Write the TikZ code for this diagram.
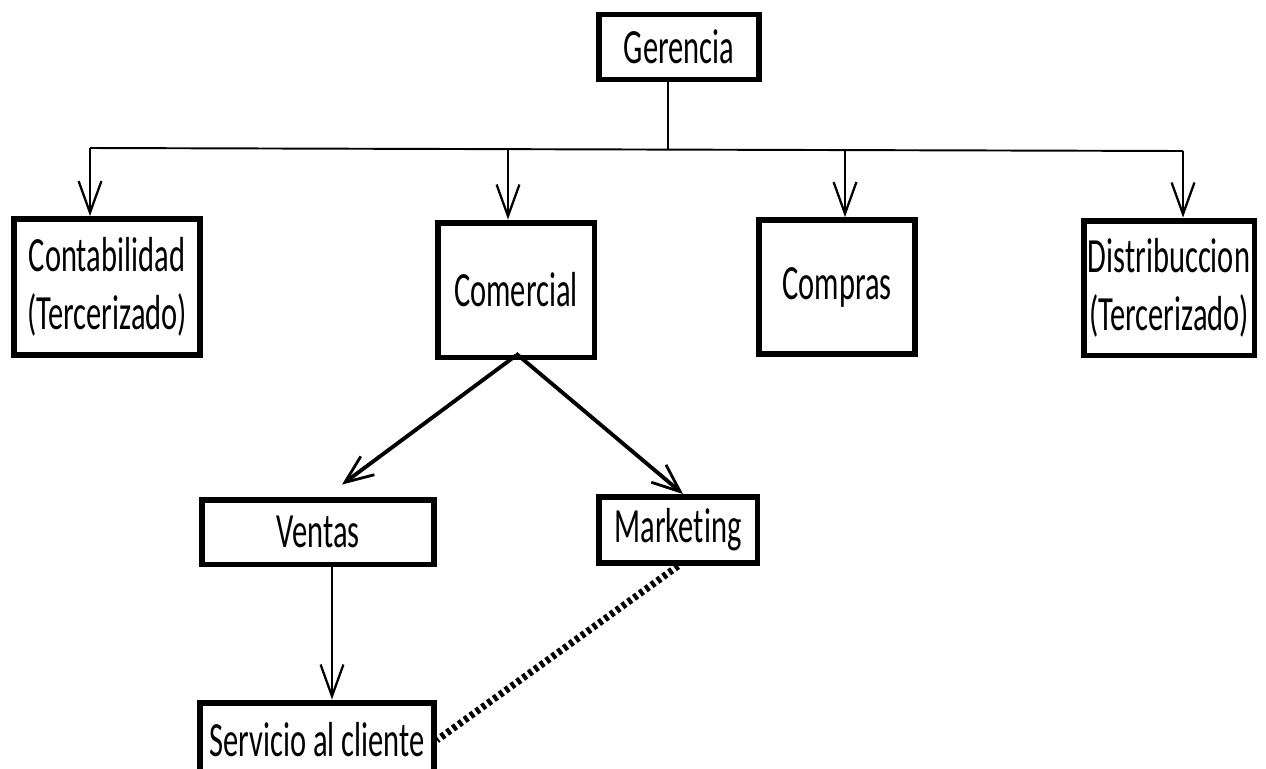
\documentclass[tikz,border=0pt]{standalone}
\usepackage{fontspec}
\setmainfont{Carlito}[FakeStretch=0.62,Ligatures=NoCommon]
\usetikzlibrary{arrows.meta}
\tikzset{
  unit/.style={draw,line width=3.4pt,inner sep=0pt,align=center,font=\fontsize{28}{33}\selectfont},
  link/.style={line width=1.1pt},
  down/.style={link,-{Straight Barb[length=18pt,width=13pt,line width=1.3pt]}},
  branch/.style={line width=2.2pt,-{Straight Barb[length=16pt,width=13pt,line width=1.6pt]}},
  dotlink/.style={line width=4pt,dash pattern=on 2.2pt off 1.9pt}
}
\begin{document}
\begin{tikzpicture}[x=0.02cm,y=-0.02cm]
   \useasboundingbox (0,0) rectangle (1266,768);
   \node[unit,minimum width=3.2cm,minimum height=1.3cm] (ger) at (679,47) {Gerencia};
   \node[unit,minimum width=3.72cm,minimum height=2.72cm] (conta) at (107,287) {Contabilidad\\(Tercerizado)};
   \node[unit,minimum width=3.14cm,minimum height=2.7cm] (com) at (516,290) {Comercial};
   \node[unit,minimum width=3.12cm,minimum height=2.68cm] (compras) at (837,287) {Compras};
   \node[unit,minimum width=3.42cm,minimum height=2.7cm] (dist) at (1169,288) {Distribuccion\\(Tercerizado)};
   \node[unit,minimum width=4.64cm,minimum height=1.3cm] (vent) at (318,532) {Ventas};
   \node[unit,minimum width=3.18cm,minimum height=1.32cm] (mkt) at (678,530) {Marketing};
   \node[unit,minimum width=4.68cm,minimum height=1.5cm] (serv) at (317,740) {Servicio al cliente};
   \coordinate (top) at (668,149);
   \coordinate (bus1) at (90,148);
   \coordinate (bus2) at (508,149);
   \coordinate (bus3) at (845,150);
   \coordinate (bus4) at (1183,151);
   \draw[link] (ger.south -| top) -- (top);
   \draw[link] (bus1) -- (bus4);
   \draw[down] (bus1) -- (bus1 |- conta.north);
   \draw[down] (bus2) -- (bus2 |- com.north);
   \draw[down] (bus3) -- (bus3 |- compras.north);
   \draw[down] (bus4) -- (bus4 |- dist.north);
   \draw[branch] ([yshift=0.1cm]com.south) -- ([xshift=0.48cm,yshift=0.24cm]vent.north);
   \draw[branch] ([yshift=0.14cm]com.south) -- ([xshift=0.1cm]mkt.north);
   \draw[down] ([xshift=0.28cm]vent.south) -- ([xshift=0.3cm]serv.north);
   \draw[dotlink] (mkt.south) -- (serv.east);
\end{tikzpicture}
\end{document}
